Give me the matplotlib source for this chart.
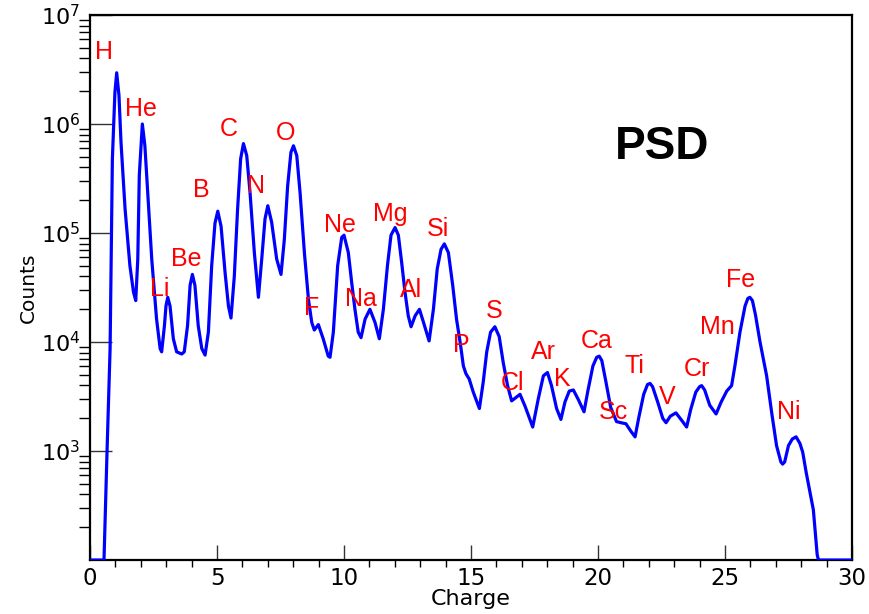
import matplotlib.pyplot as plt
import matplotlib.ticker as mticker
import numpy as np

plt.rcParams['font.family'] = ['DejaVu Sans']
plt.rcParams['mathtext.fontset'] = 'dejavusans'

# charge values and log10(counts)
charge = [0.0, 0.55, 0.67, 0.79, 0.88, 0.98, 1.05, 1.14, 1.22, 1.38, 1.57, 1.71, 1.80,
          1.88, 1.94, 2.06, 2.16, 2.27, 2.43, 2.62, 2.76, 2.82, 2.93, 2.99, 3.06,
          3.15, 3.28, 3.41, 3.61, 3.71, 3.84, 3.94, 4.03, 4.13, 4.26, 4.40, 4.53,
          4.66, 4.79, 4.92, 5.03, 5.16, 5.32, 5.45, 5.55, 5.68, 5.81, 5.93, 6.04,
          6.17, 6.30, 6.47, 6.63, 6.76, 6.89, 7.00, 7.15, 7.35, 7.52, 7.65, 7.78,
          7.91, 8.01, 8.14, 8.27, 8.44, 8.60, 8.73, 8.83, 8.99, 9.18, 9.38, 9.45,
          9.58, 9.75, 9.91, 10.0, 10.17, 10.30, 10.43, 10.56, 10.67, 10.83, 11.02,
          11.22, 11.39, 11.55, 11.71, 11.85, 12.01, 12.14, 12.27, 12.40, 12.53,
          12.64, 12.80, 12.97, 13.13, 13.35, 13.52, 13.67, 13.82, 13.95, 14.11,
          14.28, 14.43, 14.59, 14.70, 14.80, 14.93, 15.09, 15.33, 15.48, 15.62,
          15.77, 15.94, 16.11, 16.27, 16.44, 16.60, 16.93, 17.13, 17.43, 17.65,
          17.85, 18.01, 18.17, 18.37, 18.54, 18.70, 18.87, 19.03, 19.23, 19.45,
          19.6, 19.8, 19.95, 20.05, 20.15, 20.3, 20.5, 20.73, 20.9, 21.1, 21.3,
          21.46, 21.6, 21.8, 21.95, 22.05, 22.15, 22.35, 22.55, 22.68, 22.85,
          23.07, 23.3, 23.49, 23.65, 23.85, 24.0, 24.08, 24.2, 24.4, 24.65, 24.85,
          25.07, 25.26, 25.39, 25.59, 25.79, 25.9, 25.98, 26.08, 26.2, 26.38,
          26.64, 26.84, 27.03, 27.2, 27.27, 27.35, 27.5, 27.65, 27.8, 27.95,
          28.06, 28.2, 28.35, 28.48, 28.63, 28.68, 30.0]
log_counts = [2.0, 2.0, 3.0, 3.94, 5.68, 6.29, 6.47, 6.26, 5.83, 5.22, 4.70, 4.46, 4.38,
              4.76, 5.53, 6.0, 5.80, 5.37, 4.76, 4.21, 3.94, 3.91, 4.15, 4.33, 4.41,
              4.33, 4.03, 3.91, 3.89, 3.91, 4.15, 4.52, 4.62, 4.52, 4.15, 3.94, 3.88,
              4.09, 4.70, 5.09, 5.20, 5.06, 4.63, 4.33, 4.22, 4.60, 5.22, 5.68, 5.82,
              5.71, 5.37, 4.82, 4.41, 4.76, 5.13, 5.25, 5.10, 4.76, 4.62, 4.94, 5.43,
              5.74, 5.80, 5.71, 5.37, 4.82, 4.39, 4.18, 4.11, 4.16, 4.03, 3.87, 3.86,
              4.09, 4.70, 4.96, 4.98, 4.82, 4.55, 4.30, 4.09, 4.04, 4.21, 4.30,
              4.18, 4.03, 4.30, 4.70, 4.98, 5.05, 4.98, 4.73, 4.46, 4.24,
              4.14, 4.24, 4.30, 4.18, 4.01, 4.30, 4.67, 4.85, 4.90, 4.82,
              4.52, 4.21, 3.97, 3.78, 3.71, 3.66, 3.54, 3.39, 3.63, 3.91,
              4.09, 4.14, 4.05, 3.81, 3.60, 3.46, 3.52, 3.41, 3.22, 3.48,
              3.69, 3.72, 3.60, 3.39, 3.29, 3.45, 3.55, 3.56, 3.47, 3.36,
              3.55, 3.78, 3.86, 3.87, 3.83, 3.65, 3.4, 3.27, 3.26, 3.25, 3.18,
              3.13, 3.3, 3.52, 3.61, 3.62, 3.59, 3.45, 3.3, 3.26, 3.32,
              3.35, 3.28, 3.22, 3.38, 3.54, 3.59, 3.60, 3.56, 3.42, 3.34, 3.45,
              3.55, 3.60, 3.78, 4.09, 4.33, 4.40, 4.41, 4.38, 4.25, 4.0,
              3.69, 3.35, 3.05, 2.9, 2.88, 2.9, 3.05, 3.11, 3.13, 3.07,
              2.99, 2.8, 2.62, 2.46, 2.05, 2.0, 2.0]
counts = 10 ** np.array(log_counts)

elements = ['H', 'He', 'Li', 'Be', 'B', 'C', 'N', 'O', 'F', 'Ne', 'Na', 'Mg', 'Al',
            'Si', 'P', 'S', 'Cl', 'Ar', 'K', 'Ca', 'Sc', 'Ti', 'V', 'Cr', 'Mn',
            'Fe', 'Ni']
label_x = [0.55, 2.0, 2.76, 3.78, 4.37, 5.47, 6.54, 7.72, 8.74, 9.84, 10.67, 11.81,
           12.64, 13.70, 14.61, 15.91, 16.65, 17.87, 18.58, 19.96, 20.59, 21.42,
           22.72, 23.90, 24.72, 25.63, 27.52]
label_logy = [6.66, 6.14, 4.49, 4.76, 5.39, 5.95, 5.43, 5.92, 4.31, 5.07, 4.39, 5.17,
              4.48, 5.04, 3.97, 4.28, 3.62, 3.91, 3.66, 4.01, 3.36, 3.78, 3.50,
              3.75, 4.14, 4.57, 3.36]

fig = plt.figure(figsize=(8.69, 6.14), dpi=100)
ax = fig.add_axes([0.1036, 0.0879, 0.8768, 0.8877])

ax.plot(charge, counts, color='#0000ff', lw=2.3, zorder=3)

for name, lx, ly in zip(elements, label_x, label_logy):
    ax.text(lx, 10 ** ly, name, color='#ff0000', fontsize=18, ha='center', va='center',
            family='Liberation Sans')

ax.text(22.52, 10 ** 5.79, 'PSD', fontsize=33, fontweight='bold', ha='center',
        va='center', family='Liberation Sans')

ax.set_xlim(0, 30)
ax.set_yscale('log')
ax.set_ylim(100, 1e7)
ax.set_yticks([1e3, 1e4, 1e5, 1e6, 1e7])
ax.yaxis.set_minor_locator(mticker.LogLocator(base=10, subs=np.arange(2, 10)))
ax.yaxis.set_minor_formatter(mticker.NullFormatter())
ax.set_xticks([0, 5, 10, 15, 20, 25, 30])
ax.xaxis.set_minor_locator(mticker.MultipleLocator(1))

ax.tick_params(axis='both', direction='in', top=False, right=False, color='#333333')
ax.tick_params(axis='y', which='major', length=16, width=1, labelsize=16, pad=7)
ax.tick_params(axis='y', which='minor', length=8, width=1)
ax.tick_params(axis='x', which='major', length=11, width=1, labelsize=16.5, pad=5)
ax.tick_params(axis='x', which='minor', length=5, width=1)

for sp in ax.spines.values():
    sp.set_linewidth(1.6)

ax.set_xlabel('Charge', fontsize=16, labelpad=-1)
ax.set_ylabel('Counts', fontsize=14.5, labelpad=2)

fig.savefig('out.png', dpi=100)
